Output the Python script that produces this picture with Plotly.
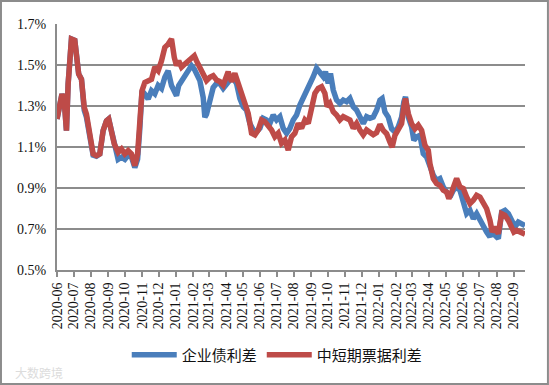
import plotly.graph_objects as go

# ---- data (percent) ----
red_name = "中短期票据利差"
blue_name = "企业债利差"

red_dates = [
    "2020-06-01", "2020-06-06", "2020-06-10", "2020-06-14", "2020-06-18", "2020-06-21", "2020-06-24", "2020-06-27",
    "2020-07-03", "2020-07-06", "2020-07-10", "2020-07-15", "2020-07-20", "2020-07-24", "2020-07-30", "2020-08-05",
    "2020-08-11", "2020-08-17", "2020-08-23", "2020-08-29", "2020-09-02", "2020-09-07", "2020-09-12", "2020-09-19",
    "2020-09-25", "2020-10-01", "2020-10-07", "2020-10-13", "2020-10-19", "2020-10-24", "2020-10-28", "2020-11-01",
    "2020-11-06", "2020-11-12", "2020-11-18", "2020-11-24", "2020-11-30", "2020-12-06", "2020-12-12", "2020-12-18",
    "2020-12-24", "2020-12-29", "2021-01-02", "2021-01-06", "2021-01-11", "2021-01-17", "2021-01-23", "2021-01-29",
    "2021-02-03", "2021-02-07", "2021-02-13", "2021-02-19", "2021-02-25", "2021-03-03", "2021-03-09", "2021-03-15",
    "2021-03-21", "2021-03-27", "2021-04-02", "2021-04-05", "2021-04-11", "2021-04-17", "2021-04-23", "2021-04-29",
    "2021-05-05", "2021-05-11", "2021-05-17", "2021-05-23", "2021-05-29", "2021-06-04", "2021-06-10", "2021-06-16",
    "2021-06-22", "2021-06-28", "2021-07-04", "2021-07-10", "2021-07-16", "2021-07-22", "2021-07-28", "2021-08-03",
    "2021-08-09", "2021-08-15", "2021-08-21", "2021-08-27", "2021-09-02", "2021-09-08", "2021-09-14", "2021-09-20",
    "2021-09-26", "2021-09-30", "2021-10-05", "2021-10-11", "2021-10-17", "2021-10-23", "2021-10-29", "2021-11-04",
    "2021-11-10", "2021-11-16", "2021-11-22", "2021-11-28", "2021-12-04", "2021-12-10", "2021-12-16", "2021-12-22",
    "2021-12-28", "2022-01-03", "2022-01-09", "2022-01-15", "2022-01-21", "2022-01-25", "2022-01-30", "2022-02-05",
    "2022-02-11", "2022-02-15", "2022-02-18", "2022-02-23", "2022-03-01", "2022-03-07", "2022-03-13", "2022-03-19",
    "2022-03-25", "2022-03-31", "2022-04-03", "2022-04-09", "2022-04-15", "2022-04-21", "2022-04-27", "2022-05-03",
    "2022-05-07", "2022-05-12", "2022-05-18", "2022-05-21", "2022-05-27", "2022-06-02", "2022-06-08", "2022-06-14",
    "2022-06-20", "2022-06-26", "2022-07-02", "2022-07-08", "2022-07-14", "2022-07-20", "2022-07-24", "2022-07-29",
    "2022-08-04", "2022-08-10", "2022-08-16", "2022-08-22", "2022-08-28", "2022-09-01", "2022-09-06", "2022-09-12",
    "2022-09-18", "2022-09-21",
]
red_vals = [
    1.237, 1.31, 1.358, 1.326, 1.18, 1.407, 1.49, 1.627,
    1.62, 1.52, 1.456, 1.43, 1.293, 1.26, 1.163, 1.066,
    1.058, 1.066, 1.18, 1.228, 1.237, 1.18, 1.115, 1.074,
    1.09, 1.066, 1.082, 1.066, 1.009, 1.066, 1.212, 1.375,
    1.415, 1.424, 1.43, 1.49, 1.472, 1.52, 1.586, 1.602,
    1.627, 1.537, 1.497, 1.52, 1.49, 1.505, 1.52, 1.53,
    1.545, 1.52, 1.49, 1.456, 1.424, 1.44, 1.448, 1.427,
    1.419, 1.402, 1.443, 1.467, 1.419, 1.459, 1.41, 1.362,
    1.313, 1.264, 1.167, 1.159, 1.183, 1.232, 1.224, 1.207,
    1.183, 1.15, 1.167, 1.118, 1.134, 1.085, 1.15, 1.167,
    1.215, 1.191, 1.232, 1.215, 1.297, 1.362, 1.386, 1.394,
    1.362, 1.297, 1.313, 1.272, 1.256, 1.232, 1.248, 1.24,
    1.232, 1.191, 1.215, 1.183, 1.159, 1.183, 1.17, 1.16,
    1.17, 1.21, 1.181, 1.165, 1.124, 1.10, 1.157, 1.181,
    1.214, 1.295, 1.336, 1.263, 1.214, 1.189, 1.206, 1.181,
    1.108, 1.084, 1.019, 0.946, 0.921, 0.913, 0.889, 0.88,
    0.848, 0.88, 0.921, 0.946, 0.905, 0.897, 0.856, 0.824,
    0.84, 0.864, 0.856, 0.824, 0.799, 0.742, 0.685, 0.71,
    0.677, 0.775, 0.767, 0.742, 0.71, 0.685, 0.693, 0.685,
    0.677, 0.675,
]

blue_dates = [
    "2020-06-01", "2020-06-06", "2020-06-10", "2020-06-14", "2020-06-18", "2020-06-21", "2020-06-24", "2020-06-27",
    "2020-07-03", "2020-07-06", "2020-07-10", "2020-07-15", "2020-07-20", "2020-07-24", "2020-07-30", "2020-08-05",
    "2020-08-11", "2020-08-17", "2020-08-23", "2020-08-29", "2020-09-02", "2020-09-07", "2020-09-12", "2020-09-19",
    "2020-09-25", "2020-10-01", "2020-10-07", "2020-10-13", "2020-10-19", "2020-10-24", "2020-10-28", "2020-11-01",
    "2020-11-06", "2020-11-12", "2020-11-18", "2020-11-24", "2020-11-30", "2020-12-06", "2020-12-12", "2020-12-18",
    "2020-12-24", "2020-12-29", "2021-01-02", "2021-01-06", "2021-01-11", "2021-01-17", "2021-01-23", "2021-01-29",
    "2021-02-03", "2021-02-07", "2021-02-13", "2021-02-19", "2021-02-22", "2021-02-25", "2021-03-03", "2021-03-09",
    "2021-03-15", "2021-03-21", "2021-03-27", "2021-04-02", "2021-04-08", "2021-04-14", "2021-04-20", "2021-04-26",
    "2021-05-02", "2021-05-08", "2021-05-14", "2021-05-20", "2021-05-26", "2021-06-01", "2021-06-07", "2021-06-13",
    "2021-06-19", "2021-06-25", "2021-07-01", "2021-07-07", "2021-07-13", "2021-07-19", "2021-07-25", "2021-07-31",
    "2021-08-06", "2021-08-12", "2021-08-18", "2021-08-24", "2021-08-30", "2021-09-05", "2021-09-11", "2021-09-17",
    "2021-09-23", "2021-09-27", "2021-10-02", "2021-10-06", "2021-10-11", "2021-10-17", "2021-10-23", "2021-10-29",
    "2021-11-04", "2021-11-10", "2021-11-16", "2021-11-22", "2021-11-28", "2021-12-04", "2021-12-10", "2021-12-16",
    "2021-12-22", "2021-12-28", "2022-01-03", "2022-01-07", "2022-01-12", "2022-01-18", "2022-01-24", "2022-01-30",
    "2022-02-05", "2022-02-11", "2022-02-15", "2022-02-18", "2022-02-23", "2022-03-01", "2022-03-05", "2022-03-10",
    "2022-03-16", "2022-03-22", "2022-03-28", "2022-04-03", "2022-04-09", "2022-04-15", "2022-04-21", "2022-04-27",
    "2022-05-03", "2022-05-09", "2022-05-15", "2022-05-21", "2022-05-27", "2022-06-02", "2022-06-08", "2022-06-14",
    "2022-06-20", "2022-06-26", "2022-07-02", "2022-07-08", "2022-07-14", "2022-07-20", "2022-07-24", "2022-07-29",
    "2022-08-04", "2022-08-10", "2022-08-16", "2022-08-22", "2022-08-28", "2022-09-03", "2022-09-09", "2022-09-15",
    "2022-09-21",
]
blue_vals = [
    1.237, 1.31, 1.358, 1.326, 1.18, 1.407, 1.49, 1.627,
    1.62, 1.52, 1.456, 1.43, 1.28, 1.245, 1.15, 1.06,
    1.055, 1.066, 1.18, 1.228, 1.237, 1.18, 1.115, 1.04,
    1.05, 1.04, 1.06, 1.05, 1.0, 1.04, 1.19, 1.375,
    1.358, 1.334, 1.375, 1.36, 1.40, 1.385, 1.44, 1.472,
    1.40, 1.375, 1.35, 1.40, 1.424, 1.44, 1.472, 1.497,
    1.48, 1.45, 1.424, 1.342, 1.245, 1.26, 1.342, 1.39,
    1.41, 1.41, 1.386, 1.41, 1.427, 1.435, 1.41, 1.337,
    1.297, 1.28, 1.215, 1.183, 1.175, 1.191, 1.24, 1.232,
    1.215, 1.256, 1.232, 1.248, 1.191, 1.167, 1.191, 1.232,
    1.256, 1.305, 1.337, 1.378, 1.41, 1.443, 1.484, 1.467,
    1.443, 1.467, 1.41, 1.459, 1.378, 1.329, 1.313, 1.329,
    1.321, 1.337, 1.297, 1.28, 1.248, 1.215, 1.248, 1.24,
    1.246, 1.279, 1.328, 1.336, 1.271, 1.246, 1.189, 1.173,
    1.198, 1.246, 1.32, 1.344, 1.246, 1.198, 1.133, 1.149,
    1.157, 1.067, 1.051, 1.002, 0.962, 0.937, 0.946, 0.905,
    0.88, 0.856, 0.889, 0.905, 0.889, 0.84, 0.775, 0.791,
    0.75, 0.775, 0.742, 0.71, 0.685, 0.661, 0.71, 0.669,
    0.653, 0.783, 0.791, 0.775, 0.742, 0.71, 0.734, 0.726,
    0.717,
]

y_ticks = [0.5, 0.7, 0.9, 1.1, 1.3, 1.5, 1.7]
y_tick_labels = ["0.5%", "0.7%", "0.9%", "1.1%", "1.3%", "1.5%", "1.7%"]

BLUE = "#4A7EBB"
RED = "#BE4B48"
GRID = "#8C8C8C"
SERIF = "Liberation Serif, Times New Roman, serif"
CJK = "Noto Sans CJK SC, sans-serif"

fig = go.Figure()
fig.add_trace(go.Scatter(x=blue_dates, y=blue_vals, mode="lines", name=blue_name,
                         line=dict(color=BLUE, width=5.5)))
fig.add_trace(go.Scatter(x=red_dates, y=red_vals, mode="lines", name=red_name,
                         line=dict(color=RED, width=5.5)))

fig.update_layout(
    width=549, height=385,
    margin=dict(l=57, r=24, t=24, b=115, autoexpand=False),
    paper_bgcolor="white", plot_bgcolor="white",
    showlegend=True,
    legend=dict(orientation="h", xref="container", yref="container",
                x=0.505, xanchor="center", y=0.078, yanchor="middle",
                font=dict(family=CJK, size=15, color="#111"), itemwidth=45,
                bgcolor="rgba(0,0,0,0)"),
    xaxis=dict(
        type="date",
        range=["2020-06-01", "2022-09-21"],
        tickformat="%Y-%m", dtick="M1", tick0="2020-06-01",
        tickangle=-90, automargin=False,
        tickfont=dict(family=SERIF, size=14, color="#111"),
        showgrid=False, showline=True, linecolor=GRID, linewidth=2,
        ticks="outside", ticklen=5, tickcolor=GRID, tickwidth=1.5,
        zeroline=False,
    ),
    yaxis=dict(
        range=[0.5, 1.7], automargin=False,
        tickvals=y_ticks, ticktext=y_tick_labels,
        tickfont=dict(family=SERIF, size=14, color="#111"),
        showgrid=True, gridcolor=GRID, gridwidth=2,
        showline=True, linecolor=GRID, linewidth=2,
        ticks="", ticklabelstandoff=6,
        zeroline=False,
    ),
    shapes=[dict(type="rect", xref="paper", yref="paper",
                 x0=-0.1197, x1=1.049, y0=-0.4634, y1=1.0935,
                 line=dict(color="#8C8C8C", width=2), layer="above")],
    annotations=[dict(text="大数跨境", xref="paper", yref="paper", x=-0.095, y=-0.415,
                      xanchor="left", yanchor="middle", showarrow=False,
                      font=dict(family=CJK, size=12, color="#DCDCDC"))],
)

fig.write_html("out.html", config={"displayModeBar": False},
               post_script="document.body.style.margin='0';document.body.style.padding='0';")
